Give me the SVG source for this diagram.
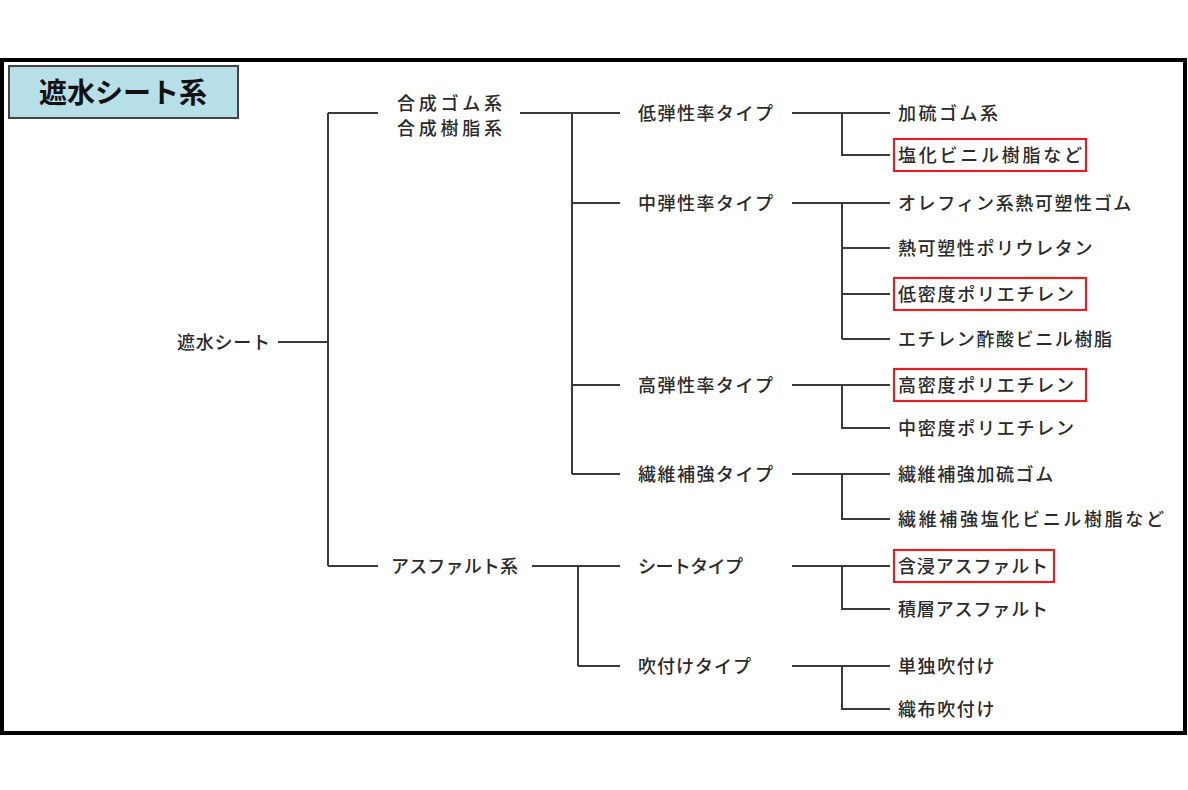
<svg xmlns="http://www.w3.org/2000/svg" width="1188" height="790" viewBox="0 0 1188 790">
<style>
  text { font-family: "Noto Sans CJK JP", "Noto Sans", sans-serif; font-size: 18px; font-weight: 500; fill: #2a2a2a; letter-spacing: 1.6px; }
  .fit { letter-spacing: 0; }
  .title { font-size: 28px; font-weight: bold; fill: #111; letter-spacing: 0; }
  .conn { stroke: #3a3a3a; stroke-width: 2; fill: none; }
  .hl { fill: none; stroke: #e41e26; stroke-width: 2.2; }
</style>
<rect x="0" y="0" width="1188" height="790" fill="#fff"/>
<rect x="2" y="60" width="1183" height="673" fill="#fff" stroke="#000" stroke-width="4"/>

<g id="title">
  <rect x="9" y="66" width="229" height="52" fill="#b7dfe8" stroke="#444" stroke-width="2"/>
  <text class="title" x="123" y="103" text-anchor="middle">遮水シート系</text>
</g>

<g id="connectors">
  <path class="conn" d="M278 342 H328 M328 113 V566 M328 113 H378 M328 566 H378"/>
  <path class="conn" d="M520 113 H620 M572 113 V474 M572 203 H620 M572 385 H620 M572 474 H620"/>
  <path class="conn" d="M532 566 H620 M578 566 V666 M578 666 H620"/>
  <path class="conn" d="M792 113 H890 M842 113 V155 H890"/>
  <path class="conn" d="M792 203 H890 M842 203 V339 M842 248 H890 M842 294 H890 M842 339 H890"/>
  <path class="conn" d="M792 385 H890 M842 385 V428 H890"/>
  <path class="conn" d="M792 474 H890 M842 474 V519 H890"/>
  <path class="conn" d="M792 566 H890 M842 566 V609 H890"/>
  <path class="conn" d="M792 666 H890 M842 666 V709 H890"/>
</g>

<g id="root"><text class="fit" x="177" y="349" textLength="93" lengthAdjust="spacing">遮水シート</text></g>
<g id="synthetic"><text class="fit" x="397" y="110" textLength="105" lengthAdjust="spacing">合成ゴム系</text><text class="fit" x="397" y="135" textLength="105" lengthAdjust="spacing">合成樹脂系</text></g>
<g id="asphalt"><text class="fit" x="391" y="573" textLength="127" lengthAdjust="spacing">アスファルト系</text></g>

<g id="low-mod"><text class="fit" x="638" y="120" textLength="135" lengthAdjust="spacing">低弾性率タイプ</text></g>
<g id="mid-mod"><text class="fit" x="638" y="210" textLength="135" lengthAdjust="spacing">中弾性率タイプ</text></g>
<g id="high-mod"><text class="fit" x="638" y="392" textLength="135" lengthAdjust="spacing">高弾性率タイプ</text></g>
<g id="fiber"><text class="fit" x="638" y="481" textLength="135" lengthAdjust="spacing">繊維補強タイプ</text></g>
<g id="sheet"><text class="fit" x="638" y="573" textLength="105" lengthAdjust="spacing">シートタイプ</text></g>
<g id="spray"><text class="fit" x="638" y="673" textLength="113" lengthAdjust="spacing">吹付けタイプ</text></g>

<g id="vulc-rubber"><text class="fit" x="898" y="120" textLength="100" lengthAdjust="spacing">加硫ゴム系</text></g>
<g id="pvc"><rect class="hl" x="894" y="139" width="192" height="32"/><text class="fit" x="898" y="162" textLength="184" lengthAdjust="spacing">塩化ビニル樹脂など</text></g>
<g id="tpo"><text x="898" y="210">オレフィン系熱可塑性ゴム</text></g>
<g id="tpu"><text x="898" y="255">熱可塑性ポリウレタン</text></g>
<g id="ldpe"><rect class="hl" x="894" y="278" width="192" height="32"/><text class="fit" x="898" y="301" textLength="176" lengthAdjust="spacing">低密度ポリエチレン</text></g>
<g id="eva"><text x="898" y="346">エチレン酢酸ビニル樹脂</text></g>
<g id="hdpe"><rect class="hl" x="894" y="369" width="192" height="32"/><text class="fit" x="898" y="392" textLength="176" lengthAdjust="spacing">高密度ポリエチレン</text></g>
<g id="mdpe"><text class="fit" x="898" y="435" textLength="176" lengthAdjust="spacing">中密度ポリエチレン</text></g>
<g id="fiber-rubber"><text x="898" y="481">繊維補強加硫ゴム</text></g>
<g id="fiber-pvc"><text class="fit" x="898" y="526" textLength="266" lengthAdjust="spacing">繊維補強塩化ビニル樹脂など</text></g>
<g id="impreg"><rect class="hl" x="894" y="550" width="160" height="32"/><text class="fit" x="898" y="573" textLength="150" lengthAdjust="spacing">含浸アスファルト</text></g>
<g id="laminated"><text class="fit" x="898" y="616" textLength="150" lengthAdjust="spacing">積層アスファルト</text></g>
<g id="single-spray"><text x="898" y="673">単独吹付け</text></g>
<g id="woven-spray"><text x="898" y="716">織布吹付け</text></g>
</svg>
